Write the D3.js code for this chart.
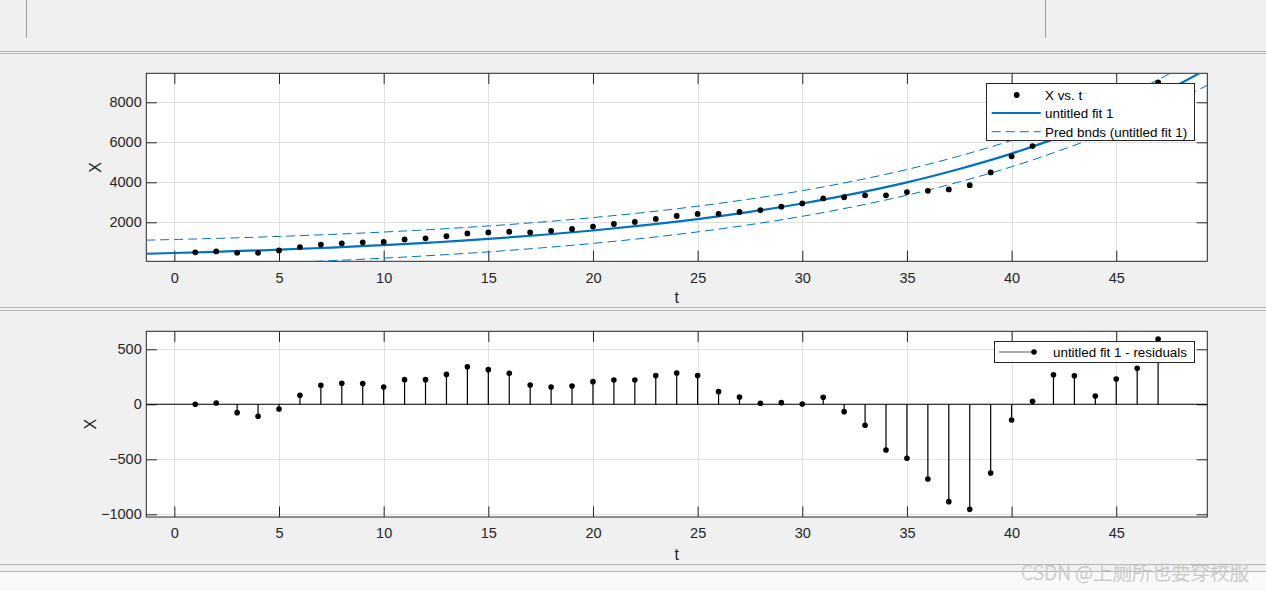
<!DOCTYPE html>
<html><head><meta charset="utf-8">
<script src="https://cdn.jsdelivr.net/npm/d3@7"></script>
<style>
html,body{margin:0;padding:0;background:#f0f0f0;overflow:hidden}
svg{display:block}
text{font-family:"Liberation Sans",Arial,Helvetica,sans-serif}
</style></head>
<body><svg id="c" width="1266" height="591"></svg>
<script>
// ---------- data ----------
const tValues = [1,2,3,4,5,6,7,8,9,10,11,12,13,14,15,16,17,18,19,20,21,22,23,24,25,26,27,28,29,30,31,32,33,34,35,36,37,38,39,40,41,42,43,44,45,46,47];
const xObserved = [497,545,474,476,595,760,885,950,998,1016,1144,1198,1303,1445,1492,1528,1499,1572,1664,1788,1914,2017,2169,2316,2419,2422,2521,2612,2780,2946,3195,3253,3347,3347,3510,3576,3642,3858,4494,5297,5811,6416,6797,7026,7622,8187,8990];
const residuals = [0,12,-76,-109,-43,82,173,191,188,157,224,224,272,342,315,282,176,157,167,206,221,221,261,285,261,115,67,9,15,3,64,-67,-191,-415,-491,-679,-885,-955,-625,-143,27,269,260,75,230,327,594];
const fitT   = [-1.34,0,2.5,5,7.5,10,12.5,15,17.5,20,22.5,25,27.5,30,32.5,35,37.5,40,42.5,45,47.5,49.35];
const fitX   = [428,465,542,632,738,860,1003,1169,1364,1590,1855,2162,2523,2940,3432,3997,4667,5436,6347,7392,8633,9672];
const upperX = [1108,1140,1210,1294,1395,1513,1653,1817,2010,2235,2498,2804,3164,3580,4072,4639,5315,6096,7032,8112,9403,10487];
const lowerX = [-252,-210,-126,-30,81,207,353,521,718,945,1212,1520,1882,2300,2792,3355,4019,4776,5662,6672,7863,8857];
const xTicks = [0,5,10,15,20,25,30,35,40,45];
const yTicksTop = [2000,4000,6000,8000];
const yTicksBottom = [-1000,-500,0,500];
const legendTop = ["X vs. t","untitled fit 1","Pred bnds (untitled fit 1)"];
const legendBottom = ["untitled fit 1 - residuals"];
const xLabel = "t", yLabel = "X";
const watermark = "CSDN @上厕所也要穿校服";

// ---------- layout ----------
const svg = d3.select("#c");
const AX = "#262626", GRID = "#dfdfdf", BLUE = "#0072BD";
const L = 146.3, R = 1207.3, TICK = 10.6;

// background chrome
svg.append("rect").attr("x",0).attr("y",572).attr("width",1266).attr("height",19).attr("fill","#f9f9f9");
[[26.5],[1045.5]].forEach(([x])=>svg.append("line").attr("x1",x).attr("x2",x).attr("y1",0).attr("y2",37.7).attr("stroke","#a0a0a0"));
[51.5,53.5,307.5,310.5,564.5,571.5].forEach(y=>svg.append("line").attr("x1",0).attr("x2",1266).attr("y1",y).attr("y2",y).attr("stroke","#b4b4b4"));

const x = d3.scaleLinear().domain([-1.34,49.35]).range([L,R]);

function panel(top, bottom, yDomain, yTicks, id){
  const y = d3.scaleLinear().domain(yDomain).range([bottom, top]);
  const g = svg.append("g");
  g.append("rect").attr("x",L).attr("y",top).attr("width",R-L).attr("height",bottom-top).attr("fill","#fff");
  g.append("clipPath").attr("id",id).append("rect").attr("x",L).attr("y",top).attr("width",R-L).attr("height",bottom-top);
  const grid = g.append("g").attr("stroke",GRID).attr("stroke-width",1);
  xTicks.forEach(v=>grid.append("line").attr("x1",Math.round(x(v))+0.5).attr("x2",Math.round(x(v))+0.5).attr("y1",top).attr("y2",bottom));
  yTicks.forEach(v=>grid.append("line").attr("y1",Math.round(y(v))+0.5).attr("y2",Math.round(y(v))+0.5).attr("x1",L).attr("x2",R));
  const fs = "14.5px";
  g.append("g").attr("transform",`translate(0,${bottom})`)
    .call(d3.axisBottom(x).tickValues(xTicks).tickSizeInner(-TICK).tickSizeOuter(0).tickPadding(11).tickFormat(d3.format("d")))
    .call(a=>{a.select(".domain").remove();a.selectAll("line").attr("stroke",AX);a.selectAll("text").attr("fill",AX).style("font-size",fs);})
    .attr("font-family",null);
  g.append("g").attr("transform",`translate(0,${top})`)
    .call(d3.axisTop(x).tickValues(xTicks).tickSizeInner(-TICK).tickSizeOuter(0).tickFormat(""))
    .call(a=>{a.select(".domain").remove();a.selectAll("line").attr("stroke",AX);});
  g.append("g").attr("transform",`translate(${L},0)`)
    .call(d3.axisLeft(y).tickValues(yTicks).tickSizeInner(-TICK).tickSizeOuter(0).tickPadding(4.6).tickFormat(d3.format("d")))
    .call(a=>{a.select(".domain").remove();a.selectAll("line").attr("stroke",AX);a.selectAll("text").attr("fill",AX).style("font-size",fs);})
    .attr("font-family",null);
  g.append("g").attr("transform",`translate(${R},0)`)
    .call(d3.axisRight(y).tickValues(yTicks).tickSizeInner(-TICK).tickSizeOuter(0).tickFormat(""))
    .call(a=>{a.select(".domain").remove();a.selectAll("line").attr("stroke",AX);});
  g.append("rect").attr("x",L).attr("y",top).attr("width",R-L).attr("height",bottom-top)
    .attr("fill","none").attr("stroke",AX).attr("stroke-width",1);
  return {y, g};
}

// ---------- top panel ----------
const P1 = panel(73.3, 261.3, [50, 9450], yTicksTop, "clip1");
const d1 = P1.g.append("g").attr("clip-path","url(#clip1)");
const line1 = arr => d3.line().x((d,i)=>x(fitT[i])).y(d=>P1.y(d)).curve(d3.curveNatural)(arr);
d1.append("path").attr("d",line1(upperX)).attr("fill","none").attr("stroke",BLUE).attr("stroke-width",1).attr("stroke-dasharray","9,5");
d1.append("path").attr("d",line1(lowerX)).attr("fill","none").attr("stroke",BLUE).attr("stroke-width",1).attr("stroke-dasharray","9,5");
d1.append("path").attr("d",line1(fitX)).attr("fill","none").attr("stroke",BLUE).attr("stroke-width",2.2);
d1.selectAll("circle.pt").data(tValues).join("circle").attr("class","pt")
  .attr("cx",d=>x(d)).attr("cy",(d,i)=>P1.y(xObserved[i])).attr("r",2.9).attr("fill","#000");

svg.append("text").attr("x",x(24.0)).attr("y",303).attr("text-anchor","middle").attr("fill",AX).style("font-size","16px").text(xLabel);
svg.append("text").attr("transform","translate(101,167.3) rotate(-90)").attr("text-anchor","middle").attr("fill",AX).style("font-size","16px").text(yLabel);

// top legend
const lg1 = svg.append("g");
lg1.append("rect").attr("x",986.5).attr("y",83.5).attr("width",208).attr("height",57).attr("fill","#fff").attr("stroke",AX).attr("stroke-width",1);
const rows = [95, 113, 131.7];
lg1.append("circle").attr("cx",1016.7).attr("cy",rows[0]).attr("r",2.9).attr("fill","#000");
lg1.append("line").attr("x1",991.7).attr("x2",1040.7).attr("y1",rows[1]).attr("y2",rows[1]).attr("stroke",BLUE).attr("stroke-width",2.2);
lg1.append("line").attr("x1",991.7).attr("x2",1040.7).attr("y1",rows[2]).attr("y2",rows[2]).attr("stroke",BLUE).attr("stroke-width",1).attr("stroke-dasharray","9,5");
legendTop.forEach((s,i)=>lg1.append("text").attr("x",1045).attr("y",rows[i]+4.8).attr("fill","#000").style("font-size","13.4px").text(s));

// ---------- bottom panel ----------
const P2 = panel(331.3, 517, [-1024.5, 663.6], yTicksBottom, "clip2");
const d2 = P2.g.append("g").attr("clip-path","url(#clip2)");
d2.append("line").attr("x1",L).attr("x2",R).attr("y1",P2.y(0)).attr("y2",P2.y(0)).attr("stroke","#000").attr("stroke-width",1.1);
d2.selectAll("line.stem").data(tValues).join("line").attr("class","stem")
  .attr("x1",d=>x(d)).attr("x2",d=>x(d)).attr("y1",P2.y(0)).attr("y2",(d,i)=>P2.y(residuals[i]))
  .attr("stroke","#000").attr("stroke-width",1.2);
d2.selectAll("circle.rs").data(tValues).join("circle").attr("class","rs")
  .attr("cx",d=>x(d)).attr("cy",(d,i)=>P2.y(residuals[i])).attr("r",2.8).attr("fill","#000");

svg.append("text").attr("x",x(24.0)).attr("y",560).attr("text-anchor","middle").attr("fill",AX).style("font-size","16px").text(xLabel);
svg.append("text").attr("transform","translate(95.5,424.2) rotate(-90)").attr("text-anchor","middle").attr("fill",AX).style("font-size","16px").text(yLabel);

// bottom legend
const lg2 = svg.append("g");
lg2.append("rect").attr("x",994.5).attr("y",341.5).attr("width",200).attr("height",21).attr("fill","#fff").attr("stroke",AX).attr("stroke-width",1);
lg2.append("line").attr("x1",999).attr("x2",1034).attr("y1",352).attr("y2",352).attr("stroke","#555").attr("stroke-width",1.2);
lg2.append("circle").attr("cx",1034).attr("cy",352).attr("r",2.8).attr("fill","#000");
legendBottom.forEach(s=>lg2.append("text").attr("x",1053).attr("y",356.7).attr("fill","#000").style("font-size","13.4px").text(s));

// watermark
svg.append("text").attr("x",1249).attr("y",580).attr("text-anchor","end")
  .style("font-family",'"Noto Sans CJK SC","Noto Sans",sans-serif').style("font-size","19.5px").style("font-weight","300")
  .attr("fill","#dadada").attr("stroke","#b8b8b8").attr("stroke-width",0.35).text(watermark);
</script></body></html>
